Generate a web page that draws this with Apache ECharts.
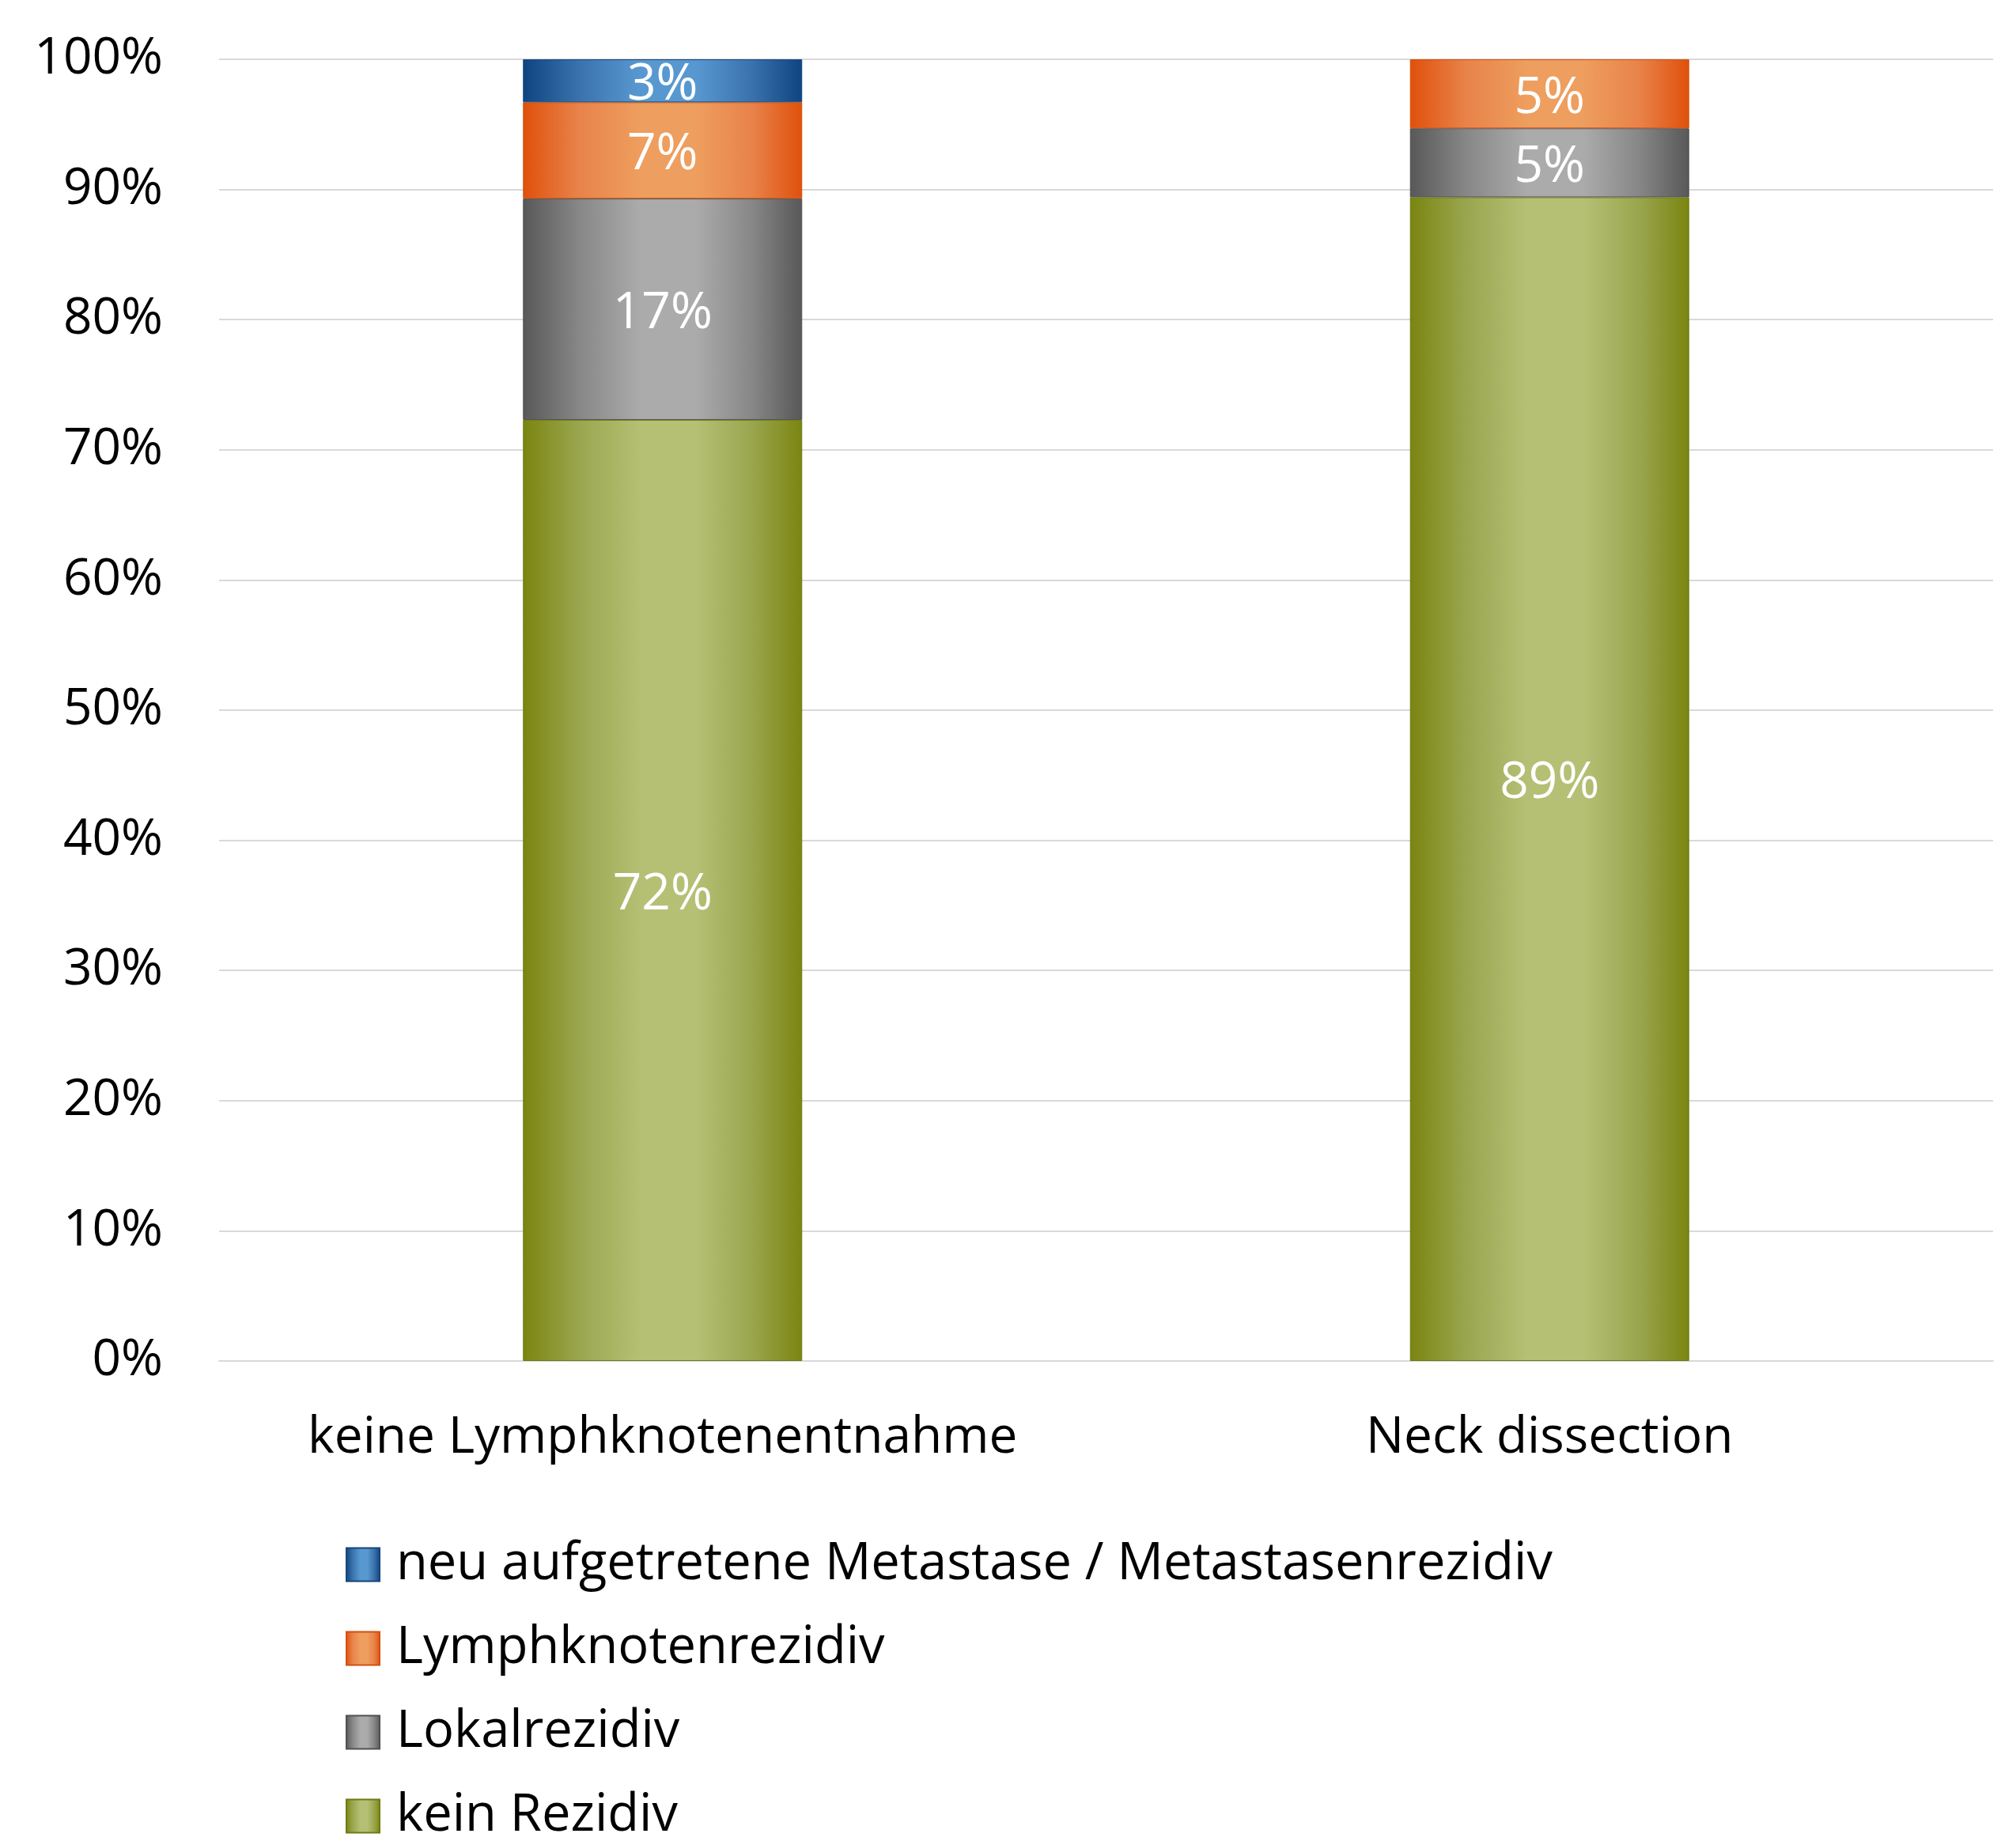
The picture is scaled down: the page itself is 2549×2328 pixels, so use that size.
<!DOCTYPE html>
<html>
<head>
<meta charset="utf-8">
<title>Rezidive nach Lymphknotenentnahme</title>
<script src="https://cdn.jsdelivr.net/npm/echarts@6/dist/echarts.min.js"></script>
<style>
  html, body { margin: 0; padding: 0; background: #ffffff; }
  #chart { width: 2549px; height: 2328px; }
</style>
</head>
<body>
<div id="chart"></div>
<script>
// Groups on the x axis
const categories = ['keine Lymphknotenentnahme', 'Neck dissection'];

// Share of patients per outcome, in percent (stacked bottom to top)
const keinRezidiv = [72.3, 89.4];
const lokalrezidiv = [17.0, 5.3];
const lymphknotenrezidiv = [7.4, 5.3];
const metastase = [3.3, 0];

// Value axis ticks
const yTicks = [0, 10, 20, 30, 40, 50, 60, 70, 80, 90, 100];

const seriesNames = [
  'kein Rezidiv',
  'Lokalrezidiv',
  'Lymphknotenrezidiv',
  'neu aufgetretene Metastase / Metastasenrezidiv'
];

const FONT = 'Open Sans';
const FS = 64;

// Horizontal shaded fill: dark edges, light centre
function shade(dark, mid, light) {
  return {
    type: 'linear', x: 0, y: 0, x2: 1, y2: 0,
    colorStops: [
      { offset: 0, color: dark },
      { offset: 0.2, color: mid },
      { offset: 0.42, color: light },
      { offset: 0.62, color: light },
      { offset: 0.82, color: mid },
      { offset: 1, color: dark }
    ]
  };
}

const palette = [
  { fill: shade('#7A8510', '#9AA64E', '#B5C075'), edge: '#6E7A12' },
  { fill: shade('#585858', '#878787', '#ABABAB'), edge: '#505050' },
  { fill: shade('#E0500B', '#E8834A', '#EE9E5E'), edge: '#D2500E' },
  { fill: shade('#0E4581', '#3A72AC', '#5898D0'), edge: '#16457A' }
];

const values = [keinRezidiv, lokalrezidiv, lymphknotenrezidiv, metastase];

const series = values.map((arr, i) => ({
  name: seriesNames[i],
  type: 'bar',
  stack: 'total',
  barWidth: 353,
  data: arr.map(v => (v > 0 ? v : null)),
  itemStyle: {
    color: palette[i].fill,
    borderColor: palette[i].edge,
    borderWidth: 1
  },
  label: {
    show: true,
    position: 'inside',
    offset: [0, 6],
    color: '#ffffff',
    fontFamily: FONT,
    fontSize: FS,
    formatter: p => Math.round(p.value) + '%'
  },
  emphasis: { disabled: true }
}));

const chart = echarts.init(document.getElementById('chart'));
chart.setOption({
  animation: false,
  backgroundColor: '#ffffff',
  textStyle: { fontFamily: FONT },
  grid: { left: 277, right: 29, top: 75, bottom: 607, containLabel: false },
  legend: {
    orient: 'vertical',
    left: 437,
    top: 1946,
    height: 600,
    padding: 0,
    icon: 'rect',
    itemWidth: 42,
    itemHeight: 42,
    itemGap: 41,
    data: seriesNames.slice().reverse(),
    textStyle: {
      fontFamily: FONT,
      fontSize: 65,
      lineHeight: 64,
      color: '#000000',
      padding: [0, 0, 0, 16]
    }
  },
  xAxis: {
    type: 'category',
    data: categories,
    axisLine: { show: true, lineStyle: { color: '#D9D9D9', width: 2 } },
    axisTick: { show: false },
    axisLabel: {
      interval: 0,
      margin: 66,
      color: '#000000',
      fontFamily: FONT,
      fontSize: FS
    }
  },
  yAxis: {
    type: 'value',
    min: yTicks[0],
    max: yTicks[yTicks.length - 1],
    interval: yTicks[1] - yTicks[0],
    axisLine: { show: false },
    axisTick: { show: false },
    splitLine: { lineStyle: { color: '#D9D9D9', width: 2 } },
    axisLabel: {
      margin: 71,
      color: '#000000',
      fontFamily: FONT,
      fontSize: FS,
      formatter: '{value}%'
    }
  },
  series: series
});
</script>
</body>
</html>
